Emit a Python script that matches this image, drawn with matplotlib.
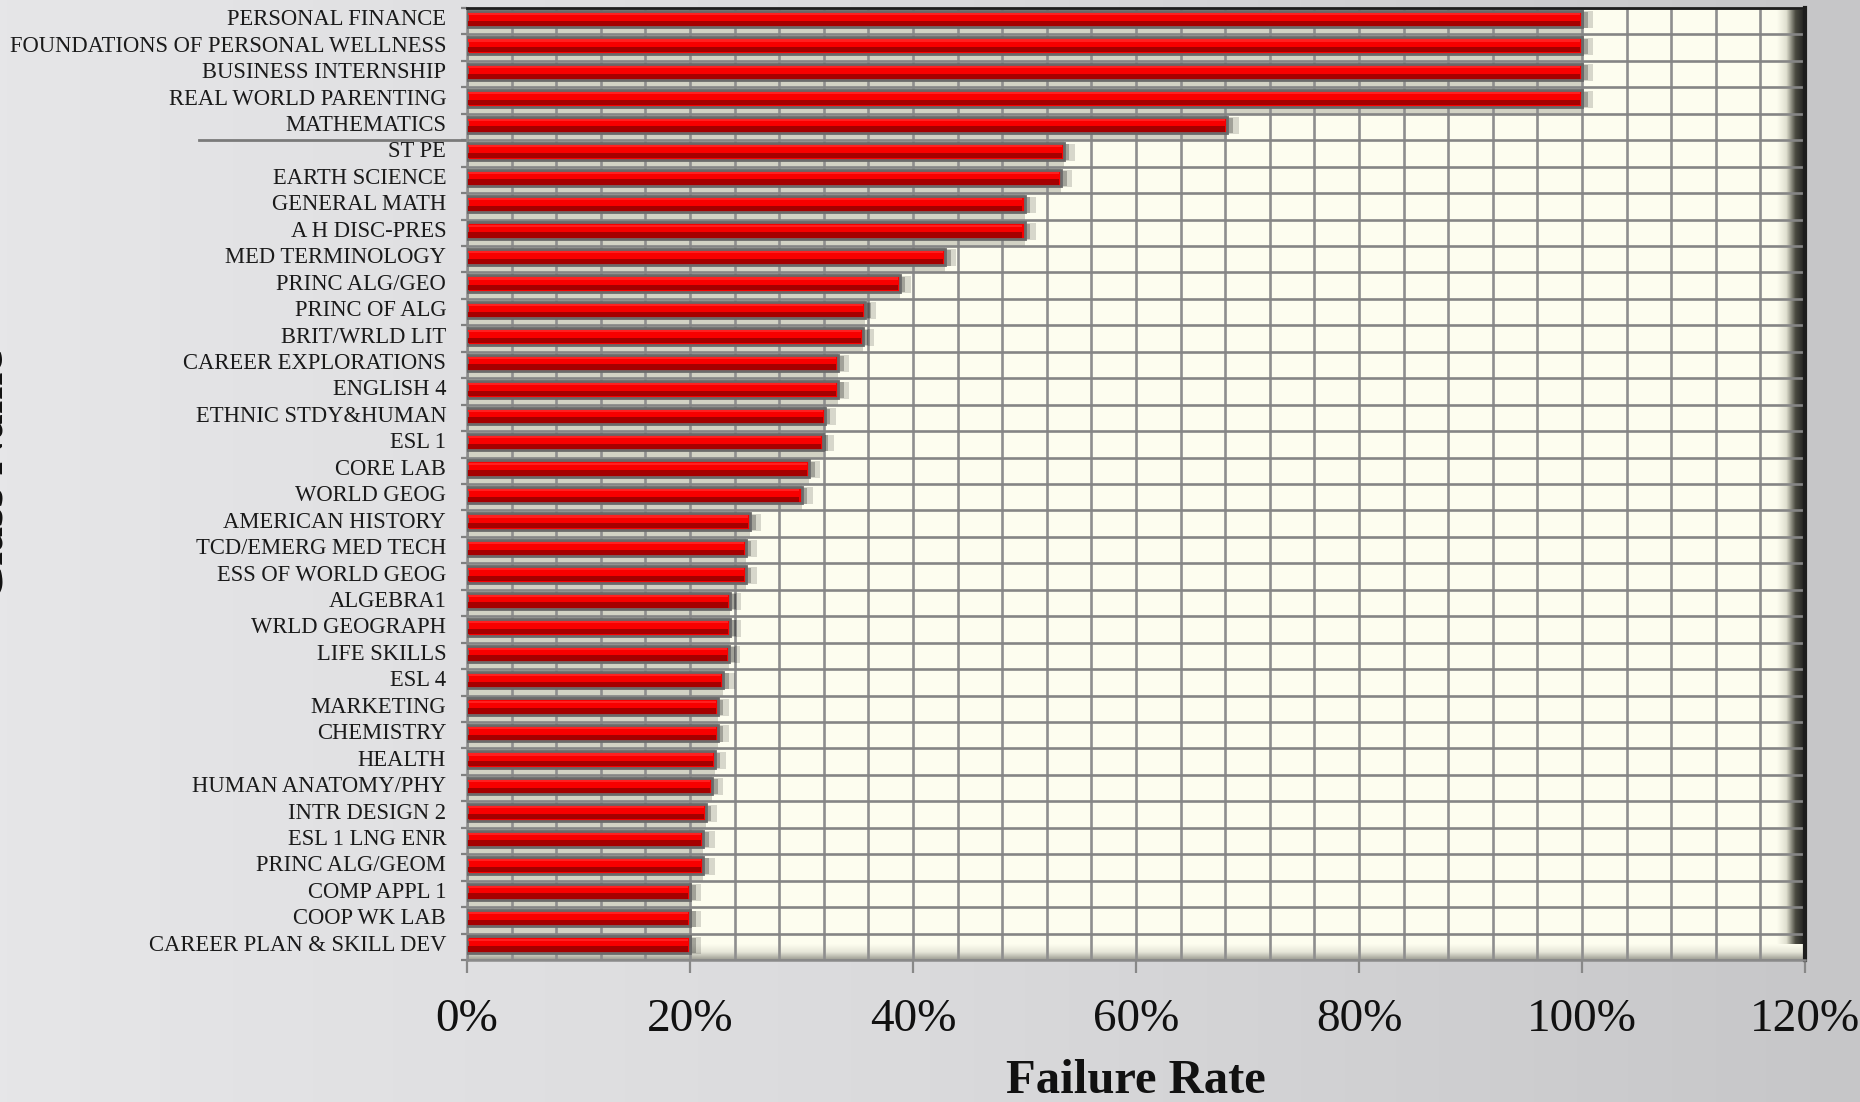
import matplotlib
matplotlib.use('Agg')
import matplotlib.pyplot as plt
from matplotlib.ticker import MultipleLocator, FuncFormatter
from matplotlib.colors import LinearSegmentedColormap
from matplotlib import transforms
import numpy as np

plt.rcParams['font.family'] = ['Liberation Serif', 'DejaVu Serif']

# class names, top to bottom
classes = [
    'PERSONAL FINANCE', 'FOUNDATIONS OF PERSONAL WELLNESS', 'BUSINESS INTERNSHIP',
    'REAL WORLD PARENTING', 'MATHEMATICS', 'ST PE', 'EARTH SCIENCE', 'GENERAL MATH',
    'A H DISC-PRES', 'MED TERMINOLOGY', 'PRINC ALG/GEO', 'PRINC OF ALG',
    'BRIT/WRLD LIT', 'CAREER EXPLORATIONS', 'ENGLISH 4', 'ETHNIC STDY&HUMAN',
    'ESL 1', 'CORE LAB', 'WORLD GEOG', 'AMERICAN HISTORY', 'TCD/EMERG MED TECH',
    'ESS OF WORLD GEOG', 'ALGEBRA1', 'WRLD GEOGRAPH', 'LIFE SKILLS', 'ESL 4',
    'MARKETING', 'CHEMISTRY', 'HEALTH', 'HUMAN ANATOMY/PHY', 'INTR DESIGN 2',
    'ESL 1 LNG ENR', 'PRINC ALG/GEOM', 'COMP APPL 1', 'COOP WK LAB',
    'CAREER PLAN & SKILL DEV',
]
# failure rate in percent
failure_rate = [
    100, 100, 100, 100, 68.2, 53.5, 53.3, 50.0, 50.0, 42.9, 38.8, 35.7,
    35.5, 33.3, 33.3, 32.1, 31.9, 30.7, 30.0, 25.4, 25.0,
    25.0, 23.6, 23.6, 23.5, 23.0, 22.5, 22.5, 22.2, 22.0, 21.4,
    21.2, 21.2, 20.0, 20.0, 20.0,
]
x_ticks = [0, 20, 40, 60, 80, 100, 120]

W, H = 1860, 1102
fig = plt.figure(figsize=(W / 100, H / 100), dpi=100)

# grey slide background
bg = fig.add_axes([0, 0, 1, 1], zorder=-5)
bg_cmap = LinearSegmentedColormap.from_list('bg', ['#e6e6e8', '#dadadc', '#c6c6c8'])
bg.imshow(np.linspace(0, 1, 256)[None, :], cmap=bg_cmap, aspect='auto', extent=[0, 1, 0, 1])
bg.set_axis_off()

ax = fig.add_axes([467 / W, 1 - 960 / H, 1338 / W, 952 / H])
ax.set_facecolor('#fdfdef')
ax.set_axisbelow(True)

y = np.arange(len(classes))
yb = y - 0.08  # bars sit a little above the row centre
rates = np.array(failure_rate)

# grey floor behind the bars
ax.barh(y, rates, height=1.0, color='#d2d2c4', zorder=0.3)
# soft shadow to the right of the bars
ax.barh(yb + 0.03, 1.0, left=rates, height=0.64, color='#000000', alpha=0.15, zorder=2)
ax.barh(yb + 0.03, 0.5, left=rates, height=0.58, color='#000000', alpha=0.25, zorder=2)
# the bars
ax.barh(yb, rates, height=0.62, color='#f80000', edgecolor='#6a6a6a', linewidth=2, zorder=4)
ax.barh(yb + 0.16, rates - 0.3, left=0.12, height=0.2, color='#a50000', zorder=5)
ax.barh(yb - 0.19, rates - 0.3, left=0.12, height=0.08, color='#ff2020', zorder=5)

# 3D-ish shading at right and bottom of the wall
edge_cmap = LinearSegmentedColormap.from_list('edge', ['#fdfdef', '#e0e0d0', '#4a4a40', '#1e1e1e'])
ax.imshow(np.linspace(0, 1, 128)[None, :], cmap=edge_cmap, aspect='auto',
          extent=[1 - 28 / 1338, 1, 0, 1], transform=ax.transAxes, zorder=0.4)
bot_cmap = LinearSegmentedColormap.from_list('bot', ['#9a9a90', '#e6e6d8', '#fdfdef'])
ax.imshow(np.linspace(0, 1, 64)[:, None], cmap=bot_cmap, aspect='auto', origin='lower',
          extent=[0, 1, 0, 16 / 952], transform=ax.transAxes, zorder=0.4)

ax.set_xlim(0, 120)
ax.set_ylim(len(classes) - 0.5, -0.5)
ax.set_aspect('auto')

ax.set_xticks(x_ticks)
ax.xaxis.set_minor_locator(MultipleLocator(4))
ax.xaxis.set_major_formatter(FuncFormatter(lambda v, p: '%d%%' % v))
ax.tick_params(axis='x', which='major', length=9, width=1.6, color='#888888',
               pad=19, labelsize=34, labelcolor='#111111')
ax.tick_params(axis='x', which='minor', length=0)

ax.set_yticks(y)
ax.set_yticklabels(classes)
ax.set_yticks(np.arange(len(classes) + 1) - 0.5, minor=True)
ax.tick_params(axis='y', which='major', length=0, pad=15, labelsize=16.3, labelcolor='#1a1a1a')
ax.tick_params(axis='y', which='minor', length=4, width=1.6, color='#808080')
shift_up = transforms.ScaledTranslation(0, 4 / 100, fig.dpi_scale_trans)
for lab in ax.get_yticklabels():
    lab.set_va('center_baseline')
    lab.set_transform(lab.get_transform() + shift_up)

ax.grid(which='both', axis='x', color='#8e8e8e', linewidth=1.9)
ax.grid(which='minor', axis='y', color='#858585', linewidth=1.9)

for side in ['left', 'bottom']:
    ax.spines[side].set_color('#8a8a8a')
    ax.spines[side].set_linewidth(1.8)
ax.spines['top'].set_color('#1e1e1e')
ax.spines['top'].set_linewidth(2)
ax.spines['right'].set_color('#1e1e1e')
ax.spines['right'].set_linewidth(3)

# stray separator line left of the axis under MATHEMATICS
ax.axhline(4.5, xmin=-0.2, xmax=0, color='#7a7a7a', linewidth=2, clip_on=False)

fig.text(1136 / W, 9 / H, 'Failure Rate', ha='center', va='baseline',
         fontsize=35, fontweight='bold', color='#111111')
fig.text(14 / W, 0.569, 'Class Name', rotation=90, ha='right', va='center',
         fontsize=36, fontweight='bold', color='#111111')

fig.savefig('out.png', dpi=100)
